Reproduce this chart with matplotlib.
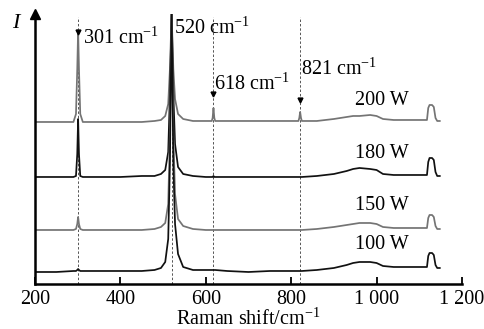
import matplotlib.pyplot as plt
import numpy as np

plt.rcParams['font.family'] = ['Liberation Serif', 'DejaVu Serif']
plt.rcParams['mathtext.fontset'] = 'custom'
plt.rcParams['mathtext.rm'] = 'Liberation Serif'
plt.rcParams['mathtext.it'] = 'Liberation Serif:italic'

# Raman shift grid (cm^-1)
shift = [200, 250, 290, 296, 299, 301, 303, 306, 312, 350, 400, 450, 480, 495, 505,
         512, 516, 520, 524, 528, 535, 547, 570, 600, 614, 616, 618, 620, 622, 650,
         700, 750, 800, 817, 819, 821, 823, 825, 860, 900, 930, 945, 960, 985, 1000,
         1015, 1040, 1080, 1110, 1118, 1121, 1124, 1130, 1134, 1138, 1142, 1148]

# intensity (offset, arb. units) for each power
I_200W = [162, 162, 162, 170, 215, 254, 215, 170, 162, 162, 162, 162, 163, 164, 168,
          180, 215, 270, 215, 185, 170, 165, 163, 163, 163, 166, 176, 166, 163, 163,
          163, 163, 163, 163, 166, 172, 166, 163, 163, 165, 167, 168, 168, 169, 168,
          165, 164, 164, 164, 164, 176, 179, 179, 177, 166, 163, 163]
I_180W = [107, 107, 107, 108, 130, 165, 130, 108, 107, 107, 107, 108, 108, 110, 114,
          132, 190, 272, 190, 140, 117, 110, 108, 107, 107, 107, 108, 107, 107, 107,
          107, 107, 107, 107, 107, 107, 107, 107, 108, 110, 113, 115, 116, 115, 114,
          110, 109, 109, 109, 109, 122, 126, 126, 124, 112, 108, 108]
I_150W = [54, 54, 54, 55, 60, 67, 60, 55, 54, 54, 54, 54, 55, 57, 61,
          80, 150, 272, 150, 90, 65, 58, 55, 54, 54, 54, 54, 54, 54, 54,
          54, 54, 54, 54, 54, 54, 54, 54, 55, 57, 59, 60, 61, 61, 60,
          57, 56, 56, 56, 56, 66, 69, 69, 67, 58, 55, 55]
I_100W = [12, 12, 13, 13, 14, 15, 14, 13, 13, 13, 13, 13, 14, 16, 22,
          45, 120, 272, 120, 60, 30, 17, 14, 14, 14, 14, 14, 14, 14, 13,
          12, 13, 13, 13, 13, 13, 13, 13, 14, 16, 19, 21, 22, 22, 21,
          18, 17, 17, 17, 17, 28, 31, 31, 29, 19, 16, 16]

powers = ['200 W', '180 W', '150 W', '100 W']
colors = ['#747474', '#111111', '#747474', '#111111']
label_y = [183, 130, 78, 39]

peaks = [301, 520, 618, 821]
arrow_y = [252, None, 190, 184]
peak_labels = ['301 cm$^{-1}$', '520 cm$^{-1}$', '618 cm$^{-1}$', '821 cm$^{-1}$']
peak_label_pos = [(312, 246), (525, 256), (620, 200), (822, 215)]

fig = plt.figure(figsize=(4.84, 3.29), dpi=100)
ax = fig.add_axes([0.0723, 0.1368, 0.8822, 0.8207])

# dashed guide lines at the marked bands
for p in peaks:
    ax.plot([p, p], [0, 267], ls=(0, (2.5, 2)), lw=0.7, color='#555555')

for y, c in zip([I_200W, I_180W, I_150W, I_100W], colors):
    ax.plot(shift, y, color=c, lw=1.25)

for p, ay in zip(peaks, arrow_y):
    if ay is not None:
        ax.plot(p, ay, marker='v', ms=3.5, color='black')

for txt, (x, y) in zip(peak_labels, peak_label_pos):
    ax.text(x, y, txt, fontsize=14.5, va='center', ha='left')

for txt, y in zip(powers, label_y):
    ax.text(1012, y, txt, fontsize=14.5, va='center', ha='center')

ax.set_xlim(200, 1200)
ax.set_ylim(0, 270)
ax.set_xticks([200, 400, 600, 800, 1000, 1200])
ax.set_xticklabels(['200', '400', '600', '800', '1 000', '1 200'])
ax.set_yticks([])
ax.tick_params(axis='x', direction='in', length=5, width=1.3, labelsize=14.5, pad=4)
for s in ['top', 'right']:
    ax.spines[s].set_visible(False)
for s in ['left', 'bottom']:
    ax.spines[s].set_linewidth(1.8)

# arrow head on intensity axis
ax.plot(0, 1.0, marker='^', ms=7, color='black', transform=ax.transAxes, clip_on=False)
ax.text(-0.045, 0.965, 'I', transform=ax.transAxes, fontsize=16, style='italic',
        ha='center', va='center')

ax.set_xlabel('Raman shift/cm$^{-1}$', fontsize=14.5, labelpad=0)

fig.savefig('out.png', dpi=100)
